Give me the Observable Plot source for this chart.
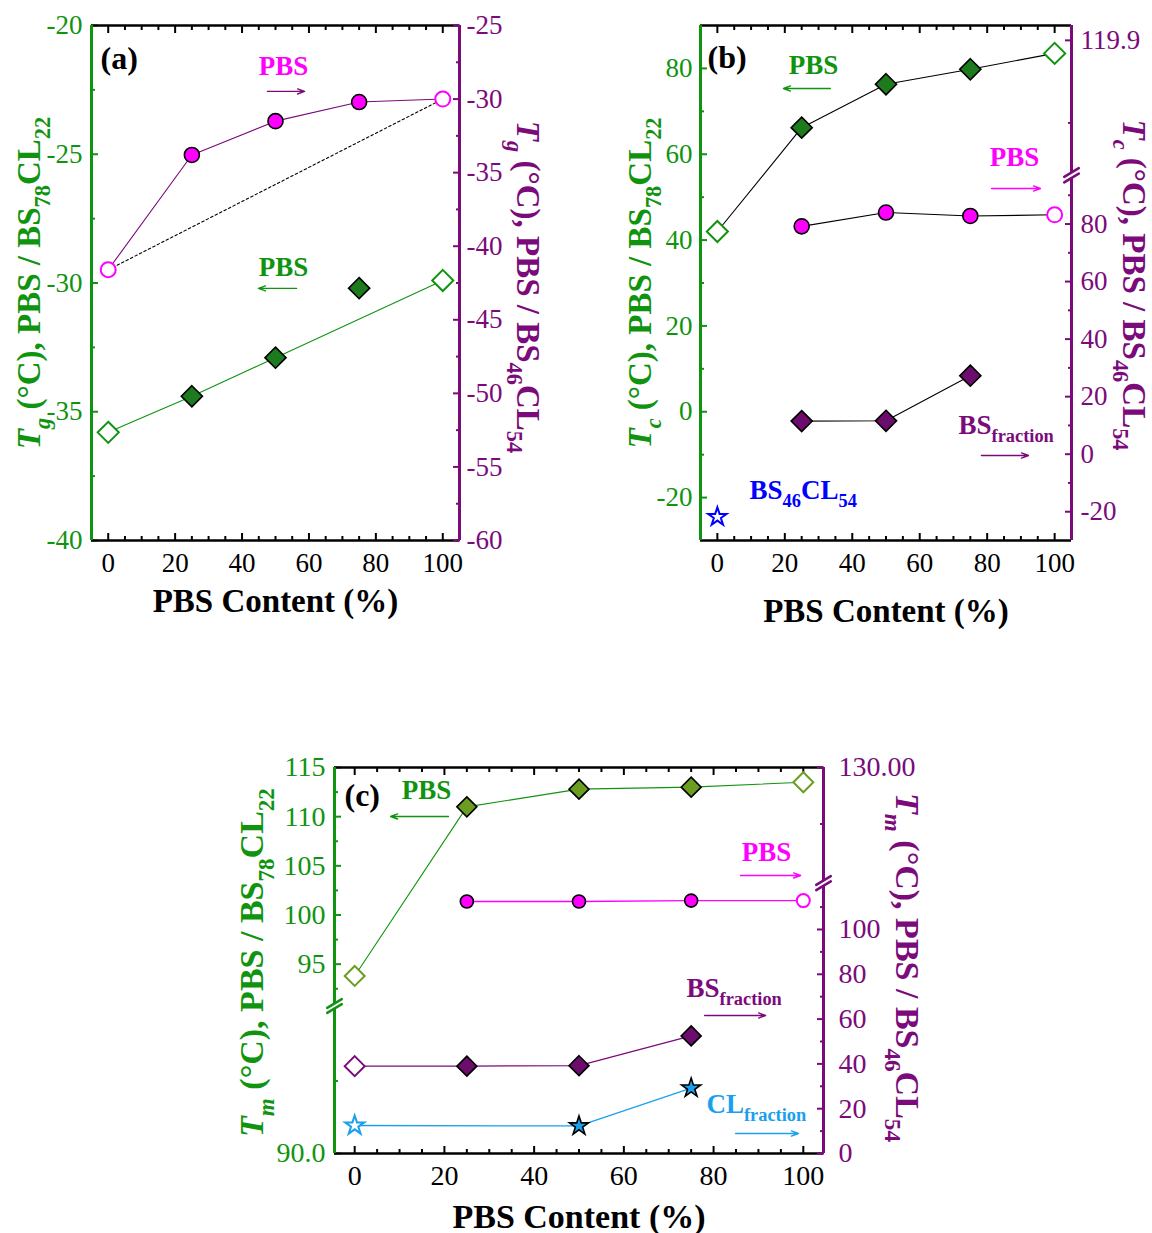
<!DOCTYPE html>
<html>
<head>
<meta charset="utf-8">
<script src="https://cdn.jsdelivr.net/npm/d3@7"></script>
<script src="https://cdn.jsdelivr.net/npm/@observablehq/plot@0.6"></script>
<style>
  body { margin: 0; background: #fff; }
  #fig { position: relative; width: 1152px; height: 1233px; background: #fff; }
  #fig svg { position: absolute; overflow: visible; }
</style>
</head>
<body>
<div id="fig"></div>
<script>
// ---------- colours ----------
const GREEN = "#109410", PURPLE = "#7b0b7b", MAGENTA = "#ff00ff", FOREST = "#1d7a1d",
      OLIVE = "#6b9e20", PLUM = "#6c0c6c", SKY = "#1aa0ee", BLUE = "#0000ff";
const SERIF = "'Liberation Serif','Times New Roman',Times,serif";

// ---------- data ----------
// PBS content of the blends (%)
const pbsContent = [0, 25, 50, 75, 100];

// (a) glass transition temperature, °C
const tgBS78 = [-35.8, -34.4, -32.9, -30.2, -29.9];          // PBS / BS78CL22 (left axis)
const tgBS46 = [-41.6, -33.8, -31.5, -30.2, -30.0];          // PBS / BS46CL54 (right axis)

// (b) crystallization temperature, °C
const tcBS78 = [42.0, 66.2, 76.3, 79.8, 83.5];               // PBS / BS78CL22 (left axis)
const tcBS46Copolymer = [-24.5, null, null, null, null];     // neat BS46CL54 (left axis)
const tcBS46PBS = [null, 79.2, 84.0, 82.8, 83.2];            // PBS phase, PBS / BS46CL54 (right)
const tcBS46BSfrac = [null, 11.5, 11.6, 27.3, null];         // BS fraction (right)

// (c) melting temperature, °C
const tmBS78 = [93.8, 111.0, 112.8, 113.0, 113.5];           // PBS / BS78CL22 (left axis)
const tmBS46PBS = [null, 112.5, 112.5, 112.9, 112.9];        // PBS phase (right)
const tmBS46BSfrac = [39.0, 39.0, 39.2, 52.5, null];         // BS fraction (right)
const tmBS46CLfrac = [12.5, null, 12.3, 29.2, null];         // CL fraction (right)

// ---------- ticks ----------
const xMajor = [0, 20, 40, 60, 80, 100];
const xMinor = [5, 10, 15, 25, 30, 35, 45, 50, 55, 65, 70, 75, 85, 90, 95];
const aLeftMajor = [-40, -35, -30, -25, -20];
const aLeftMinor = [-37.5, -32.5, -27.5, -22.5];
const aRightMajor = [-60, -55, -50, -45, -40, -35, -30, -25];
const aRightMinor = [-57.5, -52.5, -47.5, -42.5, -37.5, -32.5, -27.5];
const bLeftMajor = [-20, 0, 20, 40, 60, 80];
const bLeftMinor = [-10, 10, 30, 50, 70];
const bRightMajor = [-20, 0, 20, 40, 60, 80, 119.9];
const bRightMinor = [-10, 10, 30, 50, 70, 90, 118.9];
const cLeftMajor = [90.0, 95, 100, 105, 110, 115];
const cLeftLabels = ["90.0", "95", "100", "105", "110", "115"];
const cLeftMinor = [90.2, 92.5, 97.5, 102.5, 107.5, 112.5];
const cRightMajor = [0, 20, 40, 60, 80, 100, 130];
const cRightLabels = ["0", "20", "40", "60", "80", "100", "130.00"];
const cRightMinor = [10, 30, 50, 70, 90, 110, 125];

// ---------- helpers ----------
const rows = vals => pbsContent.map((x, i) => ({x, v: vals[i]})).filter(d => d.v != null);
const neat = d => d.x === 0 || d.x === 100;     // neat components drawn as open symbols
const plain = d => String(d);
const labelMap = (ticks, labels) => { const m = new Map(ticks.map((t, i) => [t, labels[i]])); return d => m.get(d); };

function yAxis(anchor, major, minor, color, fontSize, pad, fmt = plain) {
  return [
    Plot.axisY(major, {anchor, tickSize: -7, tickPadding: pad + 7, color, strokeWidth: 2, fontSize, tickFormat: fmt, label: null}),
    Plot.axisY(minor, {anchor, tickSize: -4, color, strokeWidth: 2, tickFormat: () => "", label: null})
  ];
}
function xAxis(fontSize) {
  return [
    Plot.axisX(xMajor, {anchor: "bottom", tickSize: -7, tickPadding: 19, color: "black", strokeWidth: 2, fontSize, tickFormat: plain, label: null}),
    Plot.axisX(xMinor, {anchor: "bottom", tickSize: -4, color: "black", strokeWidth: 2, tickFormat: () => "", label: null}),
    Plot.axisX(xMajor, {anchor: "top", tickSize: -7, color: "black", strokeWidth: 2, tickFormat: () => "", label: null}),
    Plot.axisX(xMinor, {anchor: "top", tickSize: -4, color: "black", strokeWidth: 2, tickFormat: () => "", label: null})
  ];
}
function markers(data, {symbol, r, color, fill}) {
  return [
    Plot.dot(data.filter(neat), {x: "x", y: "v", symbol, r, fill: "white", stroke: color, strokeWidth: 2}),
    Plot.dot(data.filter(d => !neat(d)), {x: "x", y: "v", symbol, r, fill, stroke: "black", strokeWidth: 1.6})
  ];
}
const link = (data, stroke, extra = {}) => Plot.line(data, {x: "x", y: "v", stroke, strokeWidth: 1.1, ...extra});
const title = (text, frameAnchor, dx, dy, rotate, fill, fontSize = 33) =>
  Plot.text([text], {text: d => d, frameAnchor, dx, dy, rotate, fill, fontSize, fontWeight: "bold", textAnchor: "middle", lineAnchor: "middle"});
const panelTag = (text, dx, dy) =>
  Plot.text([text], {text: d => d, frameAnchor: "top-left", dx, dy, textAnchor: "start", lineAnchor: "middle", fontSize: 32, fontWeight: "bold", fill: "black"});
const note = (text, x, y, fill, textAnchor = "middle", fontSize = 27) =>
  Plot.text([text], {text: d => d, x, y, fill, textAnchor, lineAnchor: "middle", fontSize, fontWeight: "bold"});
const arrow = (x1, x2, y, stroke) =>
  Plot.arrow([0], {x1, x2, y1: y, y2: y, stroke, strokeWidth: 1.4, headLength: 8, headAngle: 40});
const slash = {draw(context, l) { context.moveTo(0, l / 2); context.lineTo(0, -l / 2); }};
const breakMarks = (x, ys, stroke) =>
  Plot.vector(ys, {x, y: d => d, length: 17, rotate: 59, anchor: "start", shape: slash, stroke, strokeWidth: 2.5});

// subscripts and italics inside text marks: {i:..}, {sub:..}, {isub:..}
function richify(svg) {
  svg.querySelectorAll("text").forEach(el => {
    const s = el.textContent;
    if (!s.includes("{")) return;
    const fs = parseFloat(getComputedStyle(el).fontSize);
    while (el.firstChild) el.removeChild(el.firstChild);
    const re = /\{(i|sub|isub):([^}]*)\}|([^{]+)/g;
    let m, shift = 0;
    while ((m = re.exec(s))) {
      const t = document.createElementNS("http://www.w3.org/2000/svg", "tspan");
      let target = 0;
      if (m[3] !== undefined) {
        t.textContent = m[3];
      } else {
        t.textContent = m[2];
        if (m[1] === "i" || m[1] === "isub") t.setAttribute("font-style", "italic");
        if (m[1] === "sub" || m[1] === "isub") { t.setAttribute("font-size", (fs * 0.68).toFixed(1)); target = fs * 0.3; }
      }
      t.setAttribute("dy", (target - shift).toFixed(2));
      shift = target;
      el.appendChild(t);
    }
  });
}

const fig = document.getElementById("fig");
function place(svg, left, top) {
  svg.style.left = left + "px";
  svg.style.top = top + "px";
  fig.appendChild(svg);
  richify(svg);
}
const style = {background: "transparent", fontFamily: SERIF, overflow: "visible"};
const xTitle = "PBS Content (%)";

// ================= (a) =================
const dimA = {width: 575, height: 625, marginLeft: 91, marginRight: 116, marginTop: 25, marginBottom: 85, style};
place(Plot.plot({
  ...dimA,
  x: {domain: [-5, 105], axis: null},
  y: {domain: [-40, -20], axis: null},
  marks: [
    ...xAxis(27),
    ...yAxis("left", aLeftMajor, aLeftMinor, GREEN, 27, 9),
    Plot.ruleY([-20], {stroke: "black", strokeWidth: 2.5}),
    Plot.ruleY([-40], {stroke: "black", strokeWidth: 2.5}),
    Plot.ruleX([-5], {stroke: GREEN, strokeWidth: 3}),
    link(rows(tgBS78).filter(d => d.x !== 75), GREEN),
    ...markers(rows(tgBS78), {symbol: "diamond2", r: 9.5, color: GREEN, fill: FOREST}),
    panelTag("(a)", 9, 33),
    note("PBS", 52.4, -21.59, MAGENTA),
    arrow(47.6, 58.7, -22.56, PURPLE),
    note("PBS", 52.4, -29.40, GREEN),
    arrow(56.3, 44.9, -30.21, GREEN),
    title("{i:T}{isub:g} (°C), PBS / BS{sub:78}CL{sub:22}", "left", -62, 0, -90, GREEN),
    title(xTitle, "bottom", 0, 61, 0, "black")
  ]
}), 0, 0);
place(Plot.plot({
  ...dimA,
  x: {domain: [-5, 105], axis: null},
  y: {domain: [-60, -25], axis: null},
  marks: [
    ...yAxis("right", aRightMajor, aRightMinor, PURPLE, 27, 7),
    Plot.ruleX([105], {stroke: PURPLE, strokeWidth: 3}),
    link(rows(tgBS46).filter(neat), "black", {strokeDasharray: "2.5,2.5"}),
    link(rows(tgBS46), PURPLE),
    ...markers(rows(tgBS46), {symbol: "circle", r: 7.5, color: MAGENTA, fill: MAGENTA}),
    title("{i:T}{isub:g} (°C), PBS / BS{sub:46}CL{sub:54}", "right", 68, 4, 90, PURPLE)
  ]
}), 0, 0);

// ================= (b) =================
const dimB = {width: 567, height: 640, marginLeft: 115, marginRight: 81, marginTop: 25, marginBottom: 100, style};
place(Plot.plot({
  ...dimB,
  x: {domain: [-5, 105], axis: null},
  y: {domain: [-30, 90], axis: null},
  marks: [
    ...xAxis(27),
    ...yAxis("left", bLeftMajor, bLeftMinor, GREEN, 27, 8),
    Plot.ruleY([90], {stroke: "black", strokeWidth: 2.5}),
    Plot.ruleY([-30], {stroke: "black", strokeWidth: 2.5}),
    Plot.ruleX([-5], {stroke: GREEN, strokeWidth: 3}),
    link(rows(tcBS78), "black"),
    ...markers(rows(tcBS78), {symbol: "diamond2", r: 9.5, color: GREEN, fill: FOREST}),
    ...markers(rows(tcBS46Copolymer), {symbol: "star", r: 5.8, color: BLUE, fill: BLUE}),
    panelTag("(b)", 7, 32),
    note("PBS", 28.5, 80.68, GREEN),
    arrow(33.5, 19.6, 75.32, GREEN),
    note("PBS", 88.1, 59.24, MAGENTA),
    arrow(81.3, 95.8, 52.02, MAGENTA),
    note("BS{sub:fraction}", 71.5, -3.2, PURPLE, "start"),
    arrow(78.3, 92.25, -10.19, PURPLE),
    note("BS{sub:46}CL{sub:54}", 9.53, -18.35, BLUE, "start"),
    title("{i:T}{isub:c} (°C), PBS / BS{sub:78}CL{sub:22}", "left", -60, 0, -90, GREEN),
    title(xTitle, "bottom", 0, 71, 0, "black")
  ]
}), 585, 0);
place(Plot.plot({
  ...dimB,
  x: {domain: [-5, 105], axis: null},
  // broken axis: lower segment -30…96, upper segment 118.3…120.08
  y: {type: "linear", domain: [-30, 96, 118.3, 120.08], range: [540, 177.5, 172, 25], axis: null},
  marks: [
    ...yAxis("right", bRightMajor, bRightMinor, PURPLE, 27, 9),
    Plot.ruleX([105], {y1: -30, y2: 96, stroke: PURPLE, strokeWidth: 3}),
    Plot.ruleX([105], {y1: 118.3, y2: 120.08, stroke: PURPLE, strokeWidth: 3}),
    breakMarks(105, [96, 118.3], PURPLE),
    link(rows(tcBS46PBS), "black"),
    ...markers(rows(tcBS46PBS), {symbol: "circle", r: 7.5, color: MAGENTA, fill: MAGENTA}),
    link(rows(tcBS46BSfrac), "black"),
    ...markers(rows(tcBS46BSfrac), {symbol: "diamond2", r: 9.5, color: PURPLE, fill: PLUM}),
    title("{i:T}{isub:c} (°C), PBS / BS{sub:46}CL{sub:54}", "right", 62, 2, 90, PURPLE)
  ]
}), 585, 0);

// ================= (c) =================
const dimC = {width: 720, height: 493, marginLeft: 119, marginRight: 112, marginTop: 27, marginBottom: 80, style};
place(Plot.plot({
  ...dimC,
  x: {domain: [-4.5, 104.5], axis: null},
  // broken axis: lower segment 90.0…90.4, upper segment 91…115
  y: {type: "linear", domain: [90.0, 90.4, 91, 115], range: [413, 268, 263, 27], axis: null},
  marks: [
    ...xAxis(28),
    ...yAxis("left", cLeftMajor, cLeftMinor, GREEN, 28, 9, labelMap(cLeftMajor, cLeftLabels)),
    Plot.ruleY([115], {stroke: "black", strokeWidth: 2.5}),
    Plot.ruleY([90.0], {stroke: "black", strokeWidth: 2.5}),
    Plot.ruleX([-4.5], {y1: 90.0, y2: 90.4, stroke: GREEN, strokeWidth: 3}),
    Plot.ruleX([-4.5], {y1: 91, y2: 115, stroke: GREEN, strokeWidth: 3}),
    breakMarks(-4.5, [90.4, 91], GREEN),
    link(rows(tmBS78), GREEN),
    ...markers(rows(tmBS78), {symbol: "diamond2", r: 9, color: OLIVE, fill: OLIVE}),
    panelTag("(c)", 10, 28),
    note("PBS", 16.0, 112.66, GREEN),
    arrow(20.9, 8.0, 110.02, GREEN),
    note("PBS", 91.8, 106.36, MAGENTA),
    arrow(86.0, 99.4, 104.02, MAGENTA),
    title("{i:T}{isub:m} (°C), PBS / BS{sub:78}CL{sub:22}", "left", -82, 2, -90, GREEN, 34),
    title(xTitle, "bottom", 0, 64, 0, "black", 34)
  ]
}), 215, 740);
place(Plot.plot({
  ...dimC,
  x: {domain: [-4.5, 104.5], axis: null},
  // broken axis: lower segment 0…119.5, upper segment 120…130
  y: {type: "linear", domain: [0, 119.5, 120, 130], range: [413, 145.3, 140, 27], axis: null},
  marks: [
    ...yAxis("right", cRightMajor, cRightMinor, PURPLE, 28, 15, labelMap(cRightMajor, cRightLabels)),
    Plot.ruleX([104.5], {y1: 0, y2: 119.5, stroke: PURPLE, strokeWidth: 3}),
    Plot.ruleX([104.5], {y1: 120, y2: 130, stroke: PURPLE, strokeWidth: 3}),
    breakMarks(104.5, [119.5, 120], PURPLE),
    link(rows(tmBS46PBS), MAGENTA, {strokeWidth: 1.4}),
    ...markers(rows(tmBS46PBS), {symbol: "circle", r: 6.5, color: MAGENTA, fill: MAGENTA}),
    link(rows(tmBS46BSfrac), PURPLE, {strokeWidth: 1.3}),
    ...markers(rows(tmBS46BSfrac), {symbol: "diamond2", r: 9, color: PURPLE, fill: PLUM}),
    link(rows(tmBS46CLfrac), SKY, {strokeWidth: 1.3}),
    ...markers(rows(tmBS46CLfrac), {symbol: "star", r: 6, color: SKY, fill: SKY}),
    note("BS{sub:fraction}", 73.96, 73.66, PURPLE, "start"),
    arrow(78.0, 91.6, 61.6, PURPLE),
    note("CL{sub:fraction}", 78.4, 21.9, SKY, "start"),
    arrow(84.9, 98.9, 8.93, SKY),
    title("{i:T}{isub:m} (°C), PBS / BS{sub:46}CL{sub:54}", "right", 83, 7, 90, PURPLE, 34)
  ]
}), 215, 740);
</script>
</body>
</html>
